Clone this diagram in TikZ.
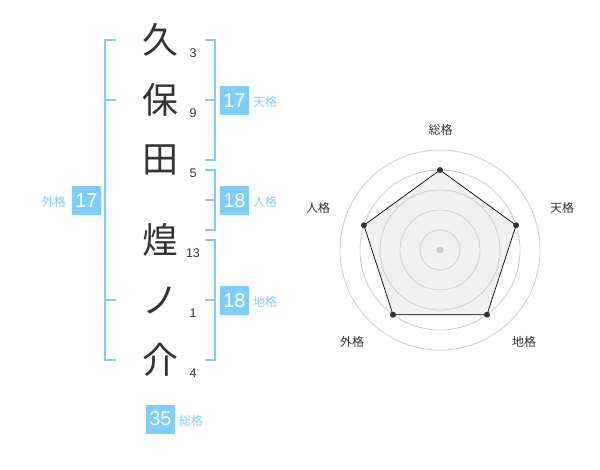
\documentclass[tikz,border=0pt]{standalone}
\usepackage{fontspec}
\setmainfont{Liberation Sans}
\newfontfamily\cjk{Noto Sans CJK JP}
\definecolor{bl}{RGB}{128,204,250}
\definecolor{bllab}{RGB}{130,204,245}
\definecolor{tx}{RGB}{51,51,51}
\definecolor{ring}{RGB}{204,204,204}
\definecolor{pfill}{RGB}{240,240,240}
\begin{document}
\begin{tikzpicture}[x=1pt,y=-1pt,
  ch/.style={font=\cjk\fontsize{36}{36}\selectfont, text=tx, inner sep=0pt},
  num/.style={font=\fontsize{12.5}{13}\selectfont, text=tx, inner sep=0pt},
  valbox/.style={fill=bl, text=white, minimum size=29pt, inner sep=0pt, font=\fontsize{20}{20}\selectfont},
  lab/.style={font=\cjk\fontsize{12}{12}\selectfont, text=bllab, inner sep=0pt},
  brk/.style={draw=bl, line width=2pt},
  rlab/.style={font=\cjk\fontsize{12}{12}\selectfont, text=tx, inner sep=0pt},
  ringst/.style={draw=ring, line width=0.8pt},
  vdot/.style={circle, fill=tx, inner sep=0pt, minimum size=6pt}
]
\useasboundingbox (0,0) rectangle (600,470);
% characters
\node[ch] (c1) at (160,40) {久};
\node[ch] (c2) at (160,100) {保};
\node[ch] (c3) at (160,160) {田};
\node[ch] (c4) at (160,240) {煌};
\node[ch] (c5) at (160,300) {ノ};
\node[ch] (c6) at (160,360) {介};
% stroke numbers
\node[num] (n1) at (193,53) {3};
\node[num] (n2) at (193,113) {9};
\node[num] (n3) at (193,173) {5};
\node[num] (n4) at (193,253) {13};
\node[num] (n5) at (193,313) {1};
\node[num] (n6) at (193,373) {4};
% left bracket (gaikaku)
\draw[brk] (116,40) -- (105,40) -- (105,360) -- (116,360);
\draw[brk] (105,100) -- (116,100);
\draw[brk] (105,300) -- (116,300);
% right brackets
\draw[brk] (205,40) -- (215,40) -- (215,160) -- (205,160);
\draw[brk] (205,100) -- (215,100);
\draw[brk] (205,170) -- (215,170) -- (215,230) -- (205,230);
\draw[brk] (205,200) -- (215,200);
\draw[brk] (205,240) -- (215,240) -- (215,360) -- (205,360);
\draw[brk] (205,300) -- (215,300);
% value boxes
\node[valbox] (b1) at (234.5,100.5) {17};
\node[lab, anchor=west] (l1) at (253,102) {天格};
\node[valbox] (b2) at (234.5,200.5) {18};
\node[lab, anchor=west] (l2) at (253,202) {人格};
\node[valbox] (b3) at (234.5,300.5) {18};
\node[lab, anchor=west] (l3) at (253,302) {地格};
\node[valbox] (b4) at (86.5,200.5) {17};
\node[lab, anchor=east] (l4) at (66,202) {外格};
\node[valbox] (b5) at (160.5,419) {35};
\node[lab, anchor=west] (l5) at (179,421) {総格};
% radar chart
\coordinate (o) at (440,250);
\coordinate (p1) at (440,170);
\coordinate (p2) at (516.1,225.3);
\coordinate (p3) at (487,314.7);
\coordinate (p4) at (393,314.7);
\coordinate (p5) at (363.9,225.3);
\fill[pfill] (p1) -- (p2) -- (p3) -- (p4) -- (p5) -- cycle;
\foreach \r in {20,40,60,80,100} \draw[ringst] (o) circle[radius=\r];
\fill[ring] (o) circle[radius=3.5];
\draw[black, line width=0.7pt] (p1) -- (p2) -- (p3) -- (p4) -- (p5) -- cycle;
\foreach \p in {p1,p2,p3,p4,p5} \node[vdot] at (\p) {};
\node[rlab] (r1) at (440.5,130) {総格};
\node[rlab] (r2) at (562,208) {天格};
\node[rlab] (r3) at (524,342) {地格};
\node[rlab] (r4) at (352,342) {外格};
\node[rlab] (r5) at (318,208) {人格};
\end{tikzpicture}
\end{document}
